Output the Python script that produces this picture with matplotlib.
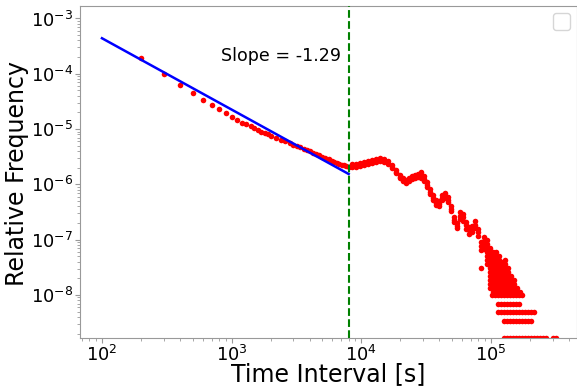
"""Inter-event time distribution, log-log, with power-law fit below the cut.
Saves out.png."""
import matplotlib; matplotlib.use("Agg"); import matplotlib.pyplot as plt
from matplotlib.ticker import LogLocator, NullFormatter

# --- values ----------------------------------------------------------------
# short intervals (100 s bins), each one a separate dot
head_x = [200, 300, 400, 500, 600, 700, 800, 900, 1000, 1100, 1200, 1300, 1400, 1500,
          1600, 1700, 1800, 1900, 2000, 2200, 2400, 2600, 2800, 3000, 3200, 3400, 3600,
          3800, 4000, 4250, 4500, 4750, 5000, 5300, 5600, 5900, 6200, 6500, 6800, 7100,
          7400, 7700, 8000]
head_y = [1.95e-4, 9.9e-5, 6.3e-5, 4.44e-5, 3.36e-5, 2.69e-5, 2.28e-5, 1.93e-5, 1.68e-5,
          1.46e-5, 1.31e-5, 1.24e-5, 1.14e-5, 1.03e-5, 9.6e-6, 8.93e-6, 8.39e-6, 7.98e-6,
          7.63e-6, 6.96e-6, 6.43e-6, 5.97e-6, 5.58e-6, 5.22e-6, 4.91e-6, 4.65e-6, 4.40e-6,
          4.19e-6, 3.98e-6, 3.76e-6, 3.55e-6, 3.36e-6, 3.18e-6, 3.00e-6, 2.83e-6, 2.69e-6,
          2.57e-6, 2.47e-6, 2.37e-6, 2.28e-6, 2.21e-6, 2.13e-6, 2.09e-6]

# wavy part past the cut: centre and upper / lower edge of the band
tail_x = [8500, 9100, 9800, 10500, 11300, 12100, 13000, 14000, 15000, 16100, 17300, 18600,
          19900, 21000, 22200, 23400, 24700, 26000, 27400, 28900, 30500, 32200, 34000,
          35800, 37800, 39800, 42000, 44300, 46800, 49300, 52000, 54900, 57900, 61000,
          64400, 67900, 71600, 75500, 79700]
tail_mid = [2.15e-6, 2.23e-6, 2.31e-6, 2.39e-6, 2.50e-6, 2.64e-6, 2.72e-6, 2.76e-6, 2.65e-6,
            2.44e-6, 2.07e-6, 1.70e-6, 1.38e-6, 1.24e-6, 1.12e-6, 1.23e-6, 1.35e-6, 1.41e-6,
            1.47e-6, 1.48e-6, 1.26e-6, 9.9e-7, 7.38e-7, 5.74e-7, 4.67e-7, 4.50e-7, 5.77e-7,
            6.19e-7, 5.22e-7, 3.59e-7, 2.27e-7, 1.79e-7, 2.70e-7, 2.52e-7, 1.83e-7, 1.48e-7,
            1.56e-7, 1.85e-7, 1.36e-7]
tail_hi = [2.29e-6, 2.37e-6, 2.46e-6, 2.54e-6, 2.66e-6, 2.81e-6, 2.89e-6, 2.94e-6, 2.82e-6,
           2.60e-6, 2.20e-6, 1.81e-6, 1.47e-6, 1.32e-6, 1.19e-6, 1.31e-6, 1.44e-6, 1.50e-6,
           1.56e-6, 1.64e-6, 1.40e-6, 1.10e-6, 8.18e-7, 6.37e-7, 5.18e-7, 4.99e-7, 6.40e-7,
           6.86e-7, 5.79e-7, 3.98e-7, 2.52e-7, 1.99e-7, 3.12e-7, 2.91e-7, 2.12e-7, 1.71e-7,
           1.80e-7, 2.14e-7, 1.57e-7]
tail_lo = [2.02e-6, 2.10e-6, 2.17e-6, 2.25e-6, 2.35e-6, 2.48e-6, 2.56e-6, 2.59e-6, 2.49e-6,
           2.29e-6, 1.95e-6, 1.60e-6, 1.30e-6, 1.17e-6, 1.05e-6, 1.16e-6, 1.27e-6, 1.33e-6,
           1.38e-6, 1.33e-6, 1.14e-6, 8.9e-7, 6.65e-7, 5.18e-7, 4.21e-7, 4.06e-7, 5.20e-7,
           5.58e-7, 4.71e-7, 3.24e-7, 2.05e-7, 1.61e-7, 2.34e-7, 2.18e-7, 1.58e-7, 1.28e-7,
           1.35e-7, 1.60e-7, 1.18e-7]

# noisy columns around 1e5 s
cloud_x = [84000, 88600, 93500, 98600, 104000, 109700, 115700, 122000, 128700, 135700,
           143200, 151000, 159300, 168000]
cloud_y = [
    [9.08e-8, 7.69e-8, 6.52e-8, 3.08e-8],
    [1.12e-7, 9.46e-8, 8.02e-8, 6.79e-8],
    [9.9e-8, 8.36e-8, 7.08e-8, 6.0e-8, 5.07e-8, 4.30e-8, 3.64e-8],
    [7.08e-8, 6.0e-8, 5.07e-8, 4.30e-8, 3.64e-8, 3.08e-8, 2.61e-8, 2.21e-8, 1.87e-8, 1.58e-8, 1.34e-8],
    [6.0e-8, 5.07e-8, 4.30e-8, 3.64e-8, 3.08e-8, 2.61e-8, 2.21e-8, 1.87e-8, 1.58e-8, 1.34e-8, 1.13e-8],
    [6.0e-8, 5.07e-8, 4.30e-8, 3.64e-8, 3.08e-8, 2.61e-8, 2.21e-8, 1.87e-8, 1.58e-8, 1.34e-8, 1.13e-8],
    [5.07e-8, 4.30e-8, 3.64e-8, 3.08e-8, 2.61e-8, 2.21e-8, 1.87e-8, 1.58e-8, 1.34e-8, 1.13e-8],
    [3.95e-8, 3.64e-8, 3.08e-8, 2.61e-8, 2.21e-8, 1.87e-8, 1.58e-8, 1.34e-8, 1.13e-8],
    [4.30e-8, 3.64e-8, 3.08e-8, 2.61e-8, 2.21e-8, 1.87e-8, 1.58e-8, 1.34e-8, 1.13e-8],
    [3.08e-8, 2.61e-8, 2.21e-8, 1.87e-8, 1.58e-8, 1.34e-8, 1.13e-8],
    [2.21e-8, 1.87e-8, 1.58e-8, 1.34e-8, 1.13e-8],
    [1.87e-8, 1.58e-8, 1.34e-8, 1.13e-8],
    [1.34e-8, 1.13e-8],
    [1.13e-8],
]

# lowest counts: flat rows at a few discrete levels
row_levels = [9.8e-9, 6.87e-9, 5.0e-9, 3.43e-9, 1.70e-9]
row_x = [
    [102200, 107700, 113700, 119900, 126500, 133400, 140700, 148400, 156500, 165100, 174100],
    [113700, 119900, 126500, 133400, 140700, 148400, 156500, 165100],
    [113700, 119900, 126500, 133400, 140700, 148400, 156500, 165100, 174100, 183600, 193700,
     204300, 215400],
    [126500, 133400, 140700, 148400, 156500, 165100, 174100, 183600, 193700, 204300],
    [126500, 133400, 140700, 148400, 156500, 165100, 174100, 183600, 193700, 204300, 215400,
     227300, 239700, 252800, 266600, 302000, 318500],
]

# power-law fit below the cut
fit_x = [100, 8000]
fit_y0 = 4.39e-4      # fit value at 100 s
slope = -1.29
cut = 8000

# --- plot -------------------------------------------------------------------
fig = plt.figure(figsize=(5.77, 3.86), dpi=100)
ax = fig.add_axes([80/577, 1-337.5/386, 496.5/577, 331.5/386])

px = head_x + tail_x * 3
py = head_y + tail_mid + tail_hi + tail_lo
for cx, ys in zip(cloud_x, cloud_y):
    px += [cx]*len(ys); py += ys
for lev, xs in zip(row_levels, row_x):
    px += xs; py += [lev]*len(xs)
ax.plot(px, py, "o", color="red", ms=4, mew=0, zorder=2)

ax.plot(fit_x, [fit_y0*(x/fit_x[0])**slope for x in fit_x], color="blue", lw=1.8, zorder=3)
ax.axvline(cut, color="green", ls="--", lw=1.5, zorder=4)
ax.text(824, 2.1e-4, f"Slope = {slope:.2f}", ha="left", va="center", fontsize=12.6)

ax.set_xscale("log"); ax.set_yscale("log")
ax.set_xlim(67.7, 4.58e5); ax.set_ylim(1.70e-9, 1.68e-3)
for a in (ax.xaxis, ax.yaxis):
    a.set_major_locator(LogLocator(base=10, numticks=20))
    a.set_minor_locator(LogLocator(base=10, subs=range(2, 10), numticks=100))
    a.set_minor_formatter(NullFormatter())
ax.tick_params(which="both", colors="0.6", labelcolor="black", labelsize=12.8)
ax.tick_params(which="major", length=3.5, pad=1.5)
ax.tick_params(which="minor", length=2)
for s in ax.spines.values():
    s.set_color("0.6")
ax.set_xlabel("Time Interval [s]", fontsize=17)
ax.set_ylabel("Relative Frequency", fontsize=17)
ax.xaxis.set_label_coords(0.5, -0.075)
ax.yaxis.set_label_coords(-0.102, 0.495)
ax.legend(handles=[], loc="upper right", borderpad=0.6)

fig.savefig("out.png", dpi=100)
